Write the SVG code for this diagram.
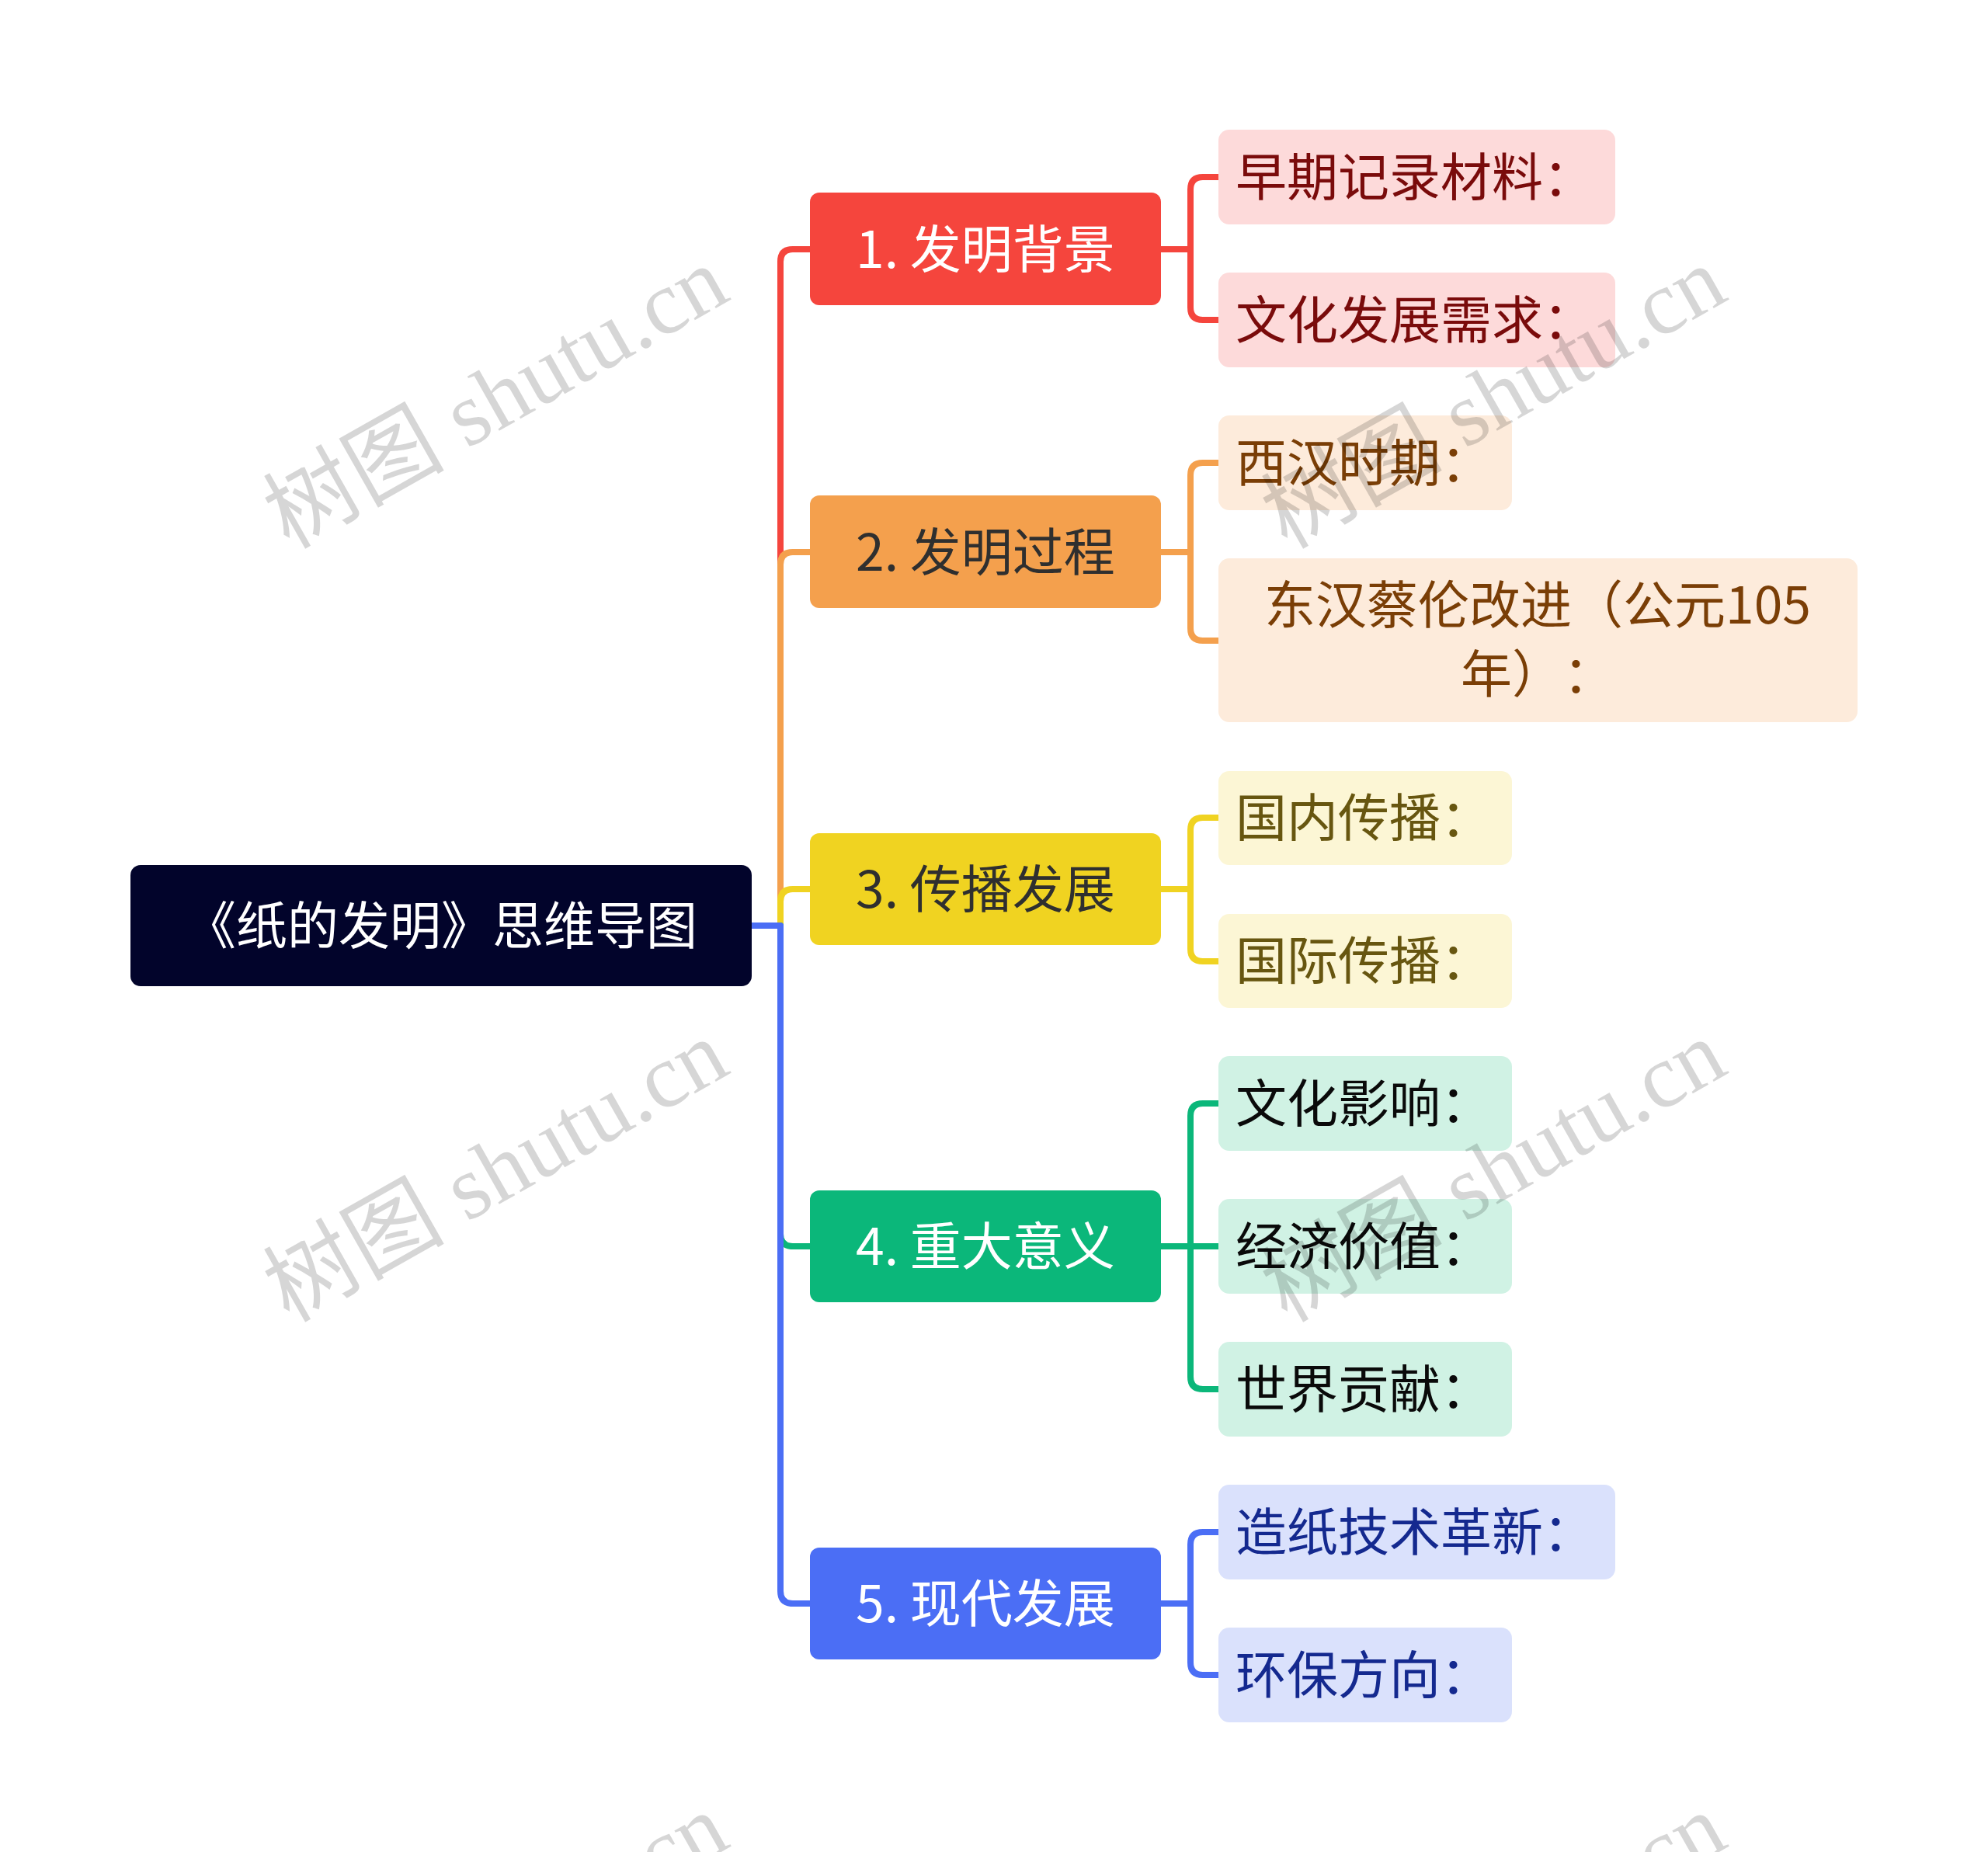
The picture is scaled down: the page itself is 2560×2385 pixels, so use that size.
<svg xmlns="http://www.w3.org/2000/svg" width="2560" height="2385" viewBox="0 0 2560 2385">
<style>
text{font-family:"Noto Sans CJK SC","Noto Sans",sans-serif;font-size:66px;text-spacing-trim:space-all}
.c{text-anchor:middle}
.w{fill:#ffffff}
.d{fill:#2f2f2f}
.ln{fill:none;stroke-width:8;stroke-linejoin:round}
.wm{font-family:"Liberation Serif","Noto Sans CJK SC",serif;font-size:117px;fill:#000;fill-opacity:0.16}
</style>
<rect width="2560" height="2385" fill="#ffffff"/>
<g id="connectors">
<path class="ln" stroke="#F5453D" d="M968,1192H1005V337Q1005,321 1021,321H1043"/>
<path class="ln" stroke="#F4A04D" d="M968,1192H1005V727Q1005,711 1021,711H1043"/>
<path class="ln" stroke="#F0D321" d="M968,1192H1005V1161Q1005,1145 1021,1145H1043"/>
<path class="ln" stroke="#0BB77A" d="M968,1192H1005V1589Q1005,1605 1021,1605H1043"/>
<path class="ln" stroke="#4B6EF5" d="M968,1192H1005V2049Q1005,2065 1021,2065H1043"/>
<path class="ln" stroke="#F5453D" d="M1495,321H1533M1569,228H1549Q1533,228 1533,244V396Q1533,412 1549,412H1569"/>
<path class="ln" stroke="#F4A04D" d="M1495,711H1533M1569,596H1549Q1533,596 1533,612V809Q1533,825 1549,825H1569"/>
<path class="ln" stroke="#F0D321" d="M1495,1145H1533M1569,1053H1549Q1533,1053 1533,1069V1222Q1533,1238 1549,1238H1569"/>
<path class="ln" stroke="#0BB77A" d="M1495,1605H1569M1569,1421H1549Q1533,1421 1533,1437V1773Q1533,1789 1549,1789H1569"/>
<path class="ln" stroke="#4B6EF5" d="M1495,2065H1533M1569,1973H1549Q1533,1973 1533,1989V2141Q1533,2157 1549,2157H1569"/>
</g>
<g id="root">
<rect x="168" y="1114" width="800" height="156" rx="13" fill="#02042B"/>
<text class="c w" x="568" y="1216">《纸的发明》思维导图</text>
</g>
<g id="b1">
<rect x="1043" y="248" width="452" height="145" rx="12" fill="#F5453D"/>
<text class="c w" x="1269" y="345">1. 发明背景</text>
</g>
<g id="b2">
<rect x="1043" y="638" width="452" height="145" rx="12" fill="#F4A04D"/>
<text class="c d" x="1269" y="735">2. 发明过程</text>
</g>
<g id="b3">
<rect x="1043" y="1073" width="452" height="144" rx="12" fill="#F0D321"/>
<text class="c d" x="1269" y="1169">3. 传播发展</text>
</g>
<g id="b4">
<rect x="1043" y="1533" width="452" height="144" rx="12" fill="#0BB77A"/>
<text class="c w" x="1269" y="1629">4. 重大意义</text>
</g>
<g id="b5">
<rect x="1043" y="1993" width="452" height="144" rx="12" fill="#4B6EF5"/>
<text class="c w" x="1269" y="2089">5. 现代发展</text>
</g>
<g id="l1a">
<rect x="1569" y="167" width="511" height="122" rx="14" fill="#FDDADA"/>
<text x="1591" y="252" fill="#7A0B0B">早期记录材料：</text>
</g>
<g id="l1b">
<rect x="1569" y="351" width="511" height="122" rx="14" fill="#FDDADA"/>
<text x="1591" y="436" fill="#7A0B0B">文化发展需求：</text>
</g>
<g id="l2a">
<rect x="1569" y="535" width="378" height="122" rx="14" fill="#FDEBDB"/>
<text x="1591" y="620" fill="#7A3E06">西汉时期：</text>
</g>
<g id="l2b">
<rect x="1569" y="719" width="823" height="211" rx="14" fill="#FDEBDB"/>
<text class="c" x="1980" y="803" fill="#7A3E06">东汉蔡伦改进（公元105</text>
<text class="c" x="1980" y="892" fill="#7A3E06">年）：</text>
</g>
<g id="l3a">
<rect x="1569" y="993" width="378" height="121" rx="14" fill="#FCF6D5"/>
<text x="1591" y="1077" fill="#675610">国内传播：</text>
</g>
<g id="l3b">
<rect x="1569" y="1177" width="378" height="121" rx="14" fill="#FCF6D5"/>
<text x="1591" y="1261" fill="#675610">国际传播：</text>
</g>
<g id="l4a">
<rect x="1569" y="1360" width="378" height="122" rx="14" fill="#D0F2E4"/>
<text x="1591" y="1445" fill="#0A0A0A">文化影响：</text>
</g>
<g id="l4b">
<rect x="1569" y="1544" width="378" height="122" rx="14" fill="#D0F2E4"/>
<text x="1591" y="1629" fill="#0A0A0A">经济价值：</text>
</g>
<g id="l4c">
<rect x="1569" y="1728" width="378" height="122" rx="14" fill="#D0F2E4"/>
<text x="1591" y="1813" fill="#0A0A0A">世界贡献：</text>
</g>
<g id="l5a">
<rect x="1569" y="1912" width="511" height="122" rx="14" fill="#DAE1FC"/>
<text x="1591" y="1997" fill="#14298F">造纸技术革新：</text>
</g>
<g id="l5b">
<rect x="1569" y="2096" width="378" height="122" rx="14" fill="#DAE1FC"/>
<text x="1591" y="2181" fill="#14298F">环保方向：</text>
</g>
<g id="watermarks">
<text class="wm" transform="translate(372,708) rotate(-29.5)">树图 shutu.cn</text>
<text class="wm" transform="translate(1657,708) rotate(-29.5)">树图 shutu.cn</text>
<text class="wm" transform="translate(372,1704) rotate(-29.5)">树图 shutu.cn</text>
<text class="wm" transform="translate(1657,1704) rotate(-29.5)">树图 shutu.cn</text>
<text class="wm" transform="translate(372,2700) rotate(-29.5)">树图 shutu.cn</text>
<text class="wm" transform="translate(1657,2700) rotate(-29.5)">树图 shutu.cn</text>
</g>
</svg>
